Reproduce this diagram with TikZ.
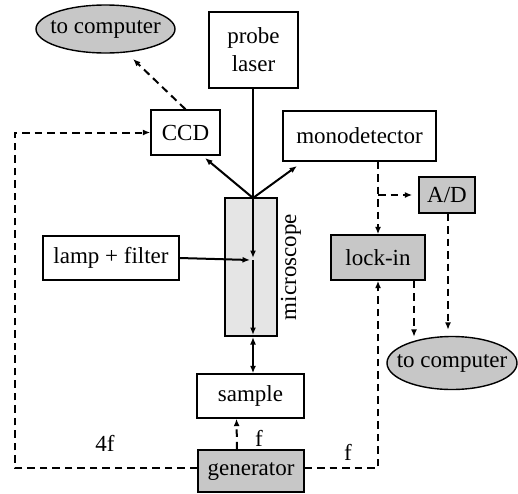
\documentclass[tikz,border=0pt]{standalone}
\usepackage{fontspec}
\setmainfont{Liberation Serif}
\usetikzlibrary{arrows.meta,shapes.geometric}
\definecolor{boxgray}{gray}{0.78}
\definecolor{scopegray}{gray}{0.9}
\begin{document}
\begin{tikzpicture}[x=1pt, y=-1pt,
  every node/.style={font=\fontsize{23}{28}\selectfont, inner sep=0pt},
  every label/.style={font=\fontsize{23}{28}\selectfont, inner sep=0pt},
  unit/.style={draw, line width=1.4pt, rectangle},
  grayunit/.style={unit, fill=boxgray},
  pc/.style={draw, line width=1.4pt, ellipse, fill=boxgray},
  beam/.style={line width=2pt},
  sig/.style={line width=2pt, dash pattern=on 7.5pt off 5pt},
  >={Latex[length=7.5pt,width=6pt]}]
\useasboundingbox (0,0) rectangle (518,493);
% boxes
\node[pc, minimum width=139, minimum height=48, label=center:to computer] (pcleft) at (105.5,29) {};
\node[unit, minimum width=89, minimum height=76, align=center] (laser) at (253.5,50) {probe\\laser};
\node[unit, minimum width=69, minimum height=45] (ccd) at (185.5,132.5) {CCD};
\node[unit, minimum width=153, minimum height=50] (mono) at (359.5,136) {monodetector};
\node[grayunit, minimum width=56, minimum height=36] (ad) at (447,195) {A/D};
\node[grayunit, minimum width=94, minimum height=45] (lockin) at (378,257.5) {lock-in};
\node[pc, minimum width=130, minimum height=53, label=center:to computer] (pcright) at (452,363) {};
\node[unit, fill=scopegray, minimum width=52, minimum height=138] (scope) at (251,267) {};
\node[rotate=90] (scopelabel) at (291,267) {microscope};
\node[unit, minimum width=136, minimum height=44] (lamp) at (111,258) {lamp + filter};
\node[unit, minimum width=107, minimum height=44] (sample) at (250.5,396) {sample};
\node[grayunit, minimum width=106, minimum height=42] (gen) at (251,471) {generator};
% optical path
\coordinate (mirror) at (253,198);
\coordinate (focus) at (253,260);
\coordinate (scopeout) at (253,336);
\coordinate (ccdin) at (205,158);
\coordinate (monoin) at (297,166);
\draw[beam] (laser.south -| mirror) -- (mirror);
\draw[beam,->] (mirror) -- (ccdin);
\draw[beam,->] (mirror) -- (monoin);
\draw[beam,->] (mirror) -- ([yshift=2pt]focus);
\draw[beam,->] (focus) -- ([yshift=1pt]scopeout);
\draw[beam,<->] ([yshift=-1pt]scopeout) -- (sample.north -| scopeout);
\draw[beam,->] (lamp.east) -- ([xshift=-3pt]focus);
% signals
\coordinate (pcin) at (133,59);
\coordinate (leftturn) at (15,468);
\draw[sig,->] (ccd.north) -- (pcin);
\draw[sig,->] (gen.west |- leftturn) -- (leftturn) |- (ccd.west);
\draw[sig,->] ([xshift=-14pt]gen.north) -- ([xshift=-14pt]sample.south);
\draw[sig,->] (gen.east |- leftturn) -| (lockin.south);
\draw[sig,->] (mono.south -| lockin.north) -- (lockin.north);
\draw[sig,->] (lockin.north |- ad.west) -- ([xshift=-6pt]ad.west);
\draw[sig,->] ([xshift=36pt]lockin.south) -- ([xshift=36pt,yshift=-1pt]lockin.south |- pcright.north);
\draw[sig,->] ([xshift=1pt]ad.south) -- ([xshift=1pt,yshift=6pt]ad.south |- pcright.north);
% frequencies
\node (fourf) at (105,443) {4f};
\node (fsample) at (259,438) {f};
\node (flockin) at (348,452) {f};
\end{tikzpicture}
\end{document}
